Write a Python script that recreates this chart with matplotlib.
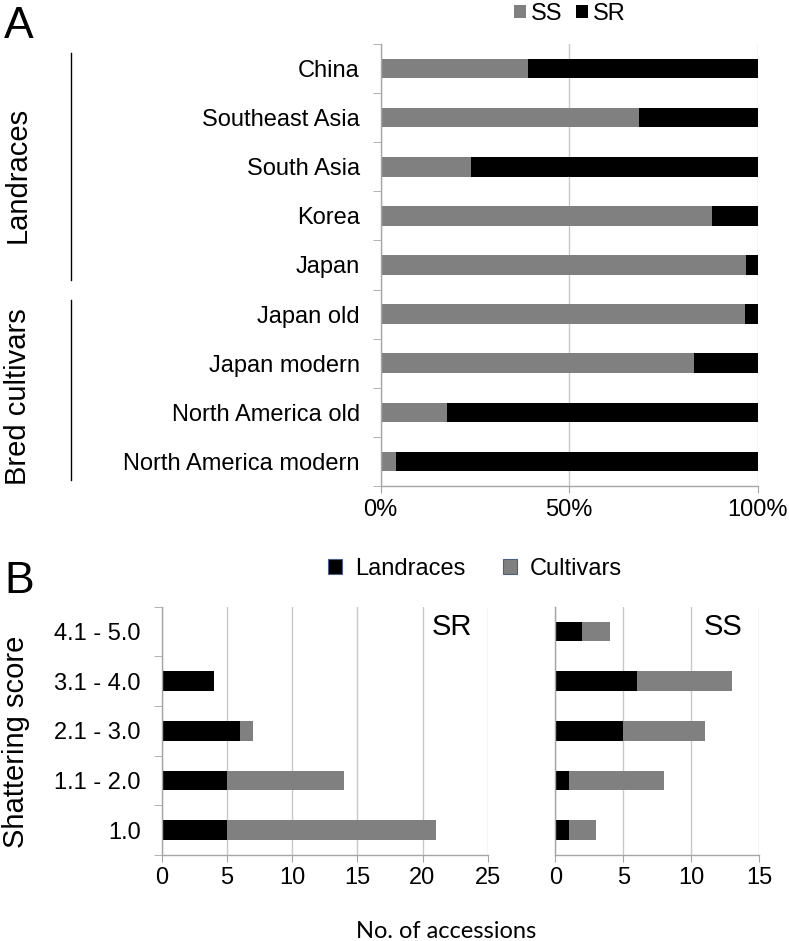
"""Shattering phenotype by region (A) and shattering score by genotype (B)."""
import matplotlib
matplotlib.use("Agg")
import matplotlib.pyplot as plt
import numpy as np
from matplotlib.lines import Line2D

# ---- data -------------------------------------------------------------
regions = [
    "China", "Southeast Asia", "South Asia", "Korea", "Japan",
    "Japan old", "Japan modern", "North America old", "North America modern",
]
ss_frac = [0.39, 0.685, 0.24, 0.88, 0.97, 0.966, 0.83, 0.176, 0.04]
sr_frac = [1 - v for v in ss_frac]

score_bins = ["1.0", "1.1 - 2.0", "2.1 - 3.0", "3.1 - 4.0", "4.1 - 5.0"]
sr_landraces = [5, 5, 6, 4, 0]
sr_cultivars = [16, 9, 1, 0, 0]
ss_landraces = [1, 1, 5, 6, 2]
ss_cultivars = [2, 7, 6, 7, 2]

# ---- style ------------------------------------------------------------
W, H = 789, 941
GRAY = "#808080"
BLACK = "#000000"
SPINE = "#a6a6a6"
GRID = "#c8c8c8"
FONT = ["Liberation Sans", "DejaVu Sans"]
LABEL_FS = 17
BAR_H = 0.4


def fx(px):
    return px / W


def fy(py):
    return 1 - py / H


def style_axis(ax, n):
    for s in ("top", "right"):
        ax.spines[s].set_visible(False)
    for s in ("left", "bottom"):
        ax.spines[s].set_color(SPINE)
        ax.spines[s].set_linewidth(1.0)
    ax.set_ylim(-0.5, n - 0.5)
    ax.set_yticks(np.arange(n - 1, -1.5, -1) + 0.5, minor=True)
    ax.tick_params(axis="y", which="major", length=0, pad=15, labelsize=LABEL_FS)
    ax.tick_params(axis="y", which="minor", length=6, color=SPINE, direction="out")
    ax.tick_params(axis="x", which="major", length=5, color=SPINE, pad=4, labelsize=LABEL_FS)
    ax.grid(axis="x", color=GRID, linewidth=1.0)
    ax.set_axisbelow(True)


def main():
    plt.rcParams["font.family"] = FONT
    fig = plt.figure(figsize=(W / 100, H / 100), dpi=100)

    # ---- panel A ----
    axA = fig.add_axes([fx(380.7), fy(486), fx(377), 442 / H])
    n = len(regions)
    ypos = np.arange(n)[::-1]
    b_ss = axA.barh(ypos, ss_frac, height=BAR_H, color=GRAY, label="SS")
    b_sr = axA.barh(ypos, sr_frac, left=ss_frac, height=BAR_H, color=BLACK, label="SR")
    style_axis(axA, n)
    axA.set_xlim(0, 1)
    axA.set_xticks([0, 0.5, 1.0])
    axA.set_xticklabels(["0%", "50%", "100%"])
    axA.set_yticks(ypos)
    axA.set_yticklabels(regions)
    axA.legend(
        handles=[b_ss, b_sr], loc="center", bbox_to_anchor=(fx(570), fy(14)),
        bbox_transform=fig.transFigure, ncol=2, frameon=False, fontsize=LABEL_FS,
        handlelength=0.5, handleheight=0.5, handletextpad=0.2, columnspacing=0.6,
    )

    fig.text(fx(4), fy(38), "A", fontsize=32, va="baseline", ha="left")
    fig.add_artist(Line2D([fx(71), fx(71)], [fy(53), fy(280)], color="black", lw=1.0))
    fig.add_artist(Line2D([fx(71), fx(71)], [fy(300), fy(480)], color="black", lw=1.0))
    fig.text(fx(18), fy(175), "Landraces", rotation=90, fontsize=21, ha="center", va="center")
    fig.text(fx(18), fy(397), "Bred cultivars", rotation=90, fontsize=21, ha="center", va="center")

    # ---- panel B ----
    bottom, height = fy(855), (855 - 606.7) / H
    axSR = fig.add_axes([fx(161.7), bottom, fx(326), height])
    axSS = fig.add_axes([fx(555.3), bottom, fx(203.7), height])
    m = len(score_bins)
    yb = np.arange(m)

    b_land = axSR.barh(yb, sr_landraces, height=BAR_H, color=BLACK, label="Landraces")
    b_cult = axSR.barh(yb, sr_cultivars, left=sr_landraces, height=BAR_H, color=GRAY, label="Cultivars")
    axSS.barh(yb, ss_landraces, height=BAR_H, color=BLACK)
    axSS.barh(yb, ss_cultivars, left=ss_landraces, height=BAR_H, color=GRAY)

    for ax, xmax in ((axSR, 25), (axSS, 15)):
        style_axis(ax, m)
        ax.set_xlim(0, xmax)
        ax.set_xticks(np.arange(0, xmax + 1, 5))
        ax.set_yticks(yb)
    axSR.set_yticklabels(score_bins)
    axSS.set_yticklabels([])
    axSS.tick_params(axis="y", which="minor", length=0)

    axSR.text(0.952, 0.886, "SR", transform=axSR.transAxes, fontsize=21, ha="right", va="baseline")
    axSS.text(0.921, 0.886, "SS", transform=axSS.transAxes, fontsize=21, ha="right", va="baseline")

    leg = fig.legend(
        handles=[b_land, b_cult], loc="center", bbox_to_anchor=(fx(475), fy(569)),
        ncol=2, frameon=False, fontsize=LABEL_FS,
        handlelength=0.6, handleheight=0.6, handletextpad=0.55, columnspacing=1.6,
    )
    for h in leg.legend_handles:
        h.set_edgecolor("#4a5f8a")
        h.set_linewidth(0.8)

    fig.text(fx(4), fy(593), "B", fontsize=32, va="baseline", ha="left")
    fig.text(fx(16), fy(742), "Shattering score", rotation=90, fontsize=21, ha="center", va="center")
    fig.text(fx(446), fy(932), "No. of accessions", fontsize=17,
             family=["Lato", "DejaVu Sans"], ha="center", va="center")

    fig.savefig("out.png", dpi=100, facecolor="white")
    plt.close(fig)


if __name__ == "__main__":
    main()
